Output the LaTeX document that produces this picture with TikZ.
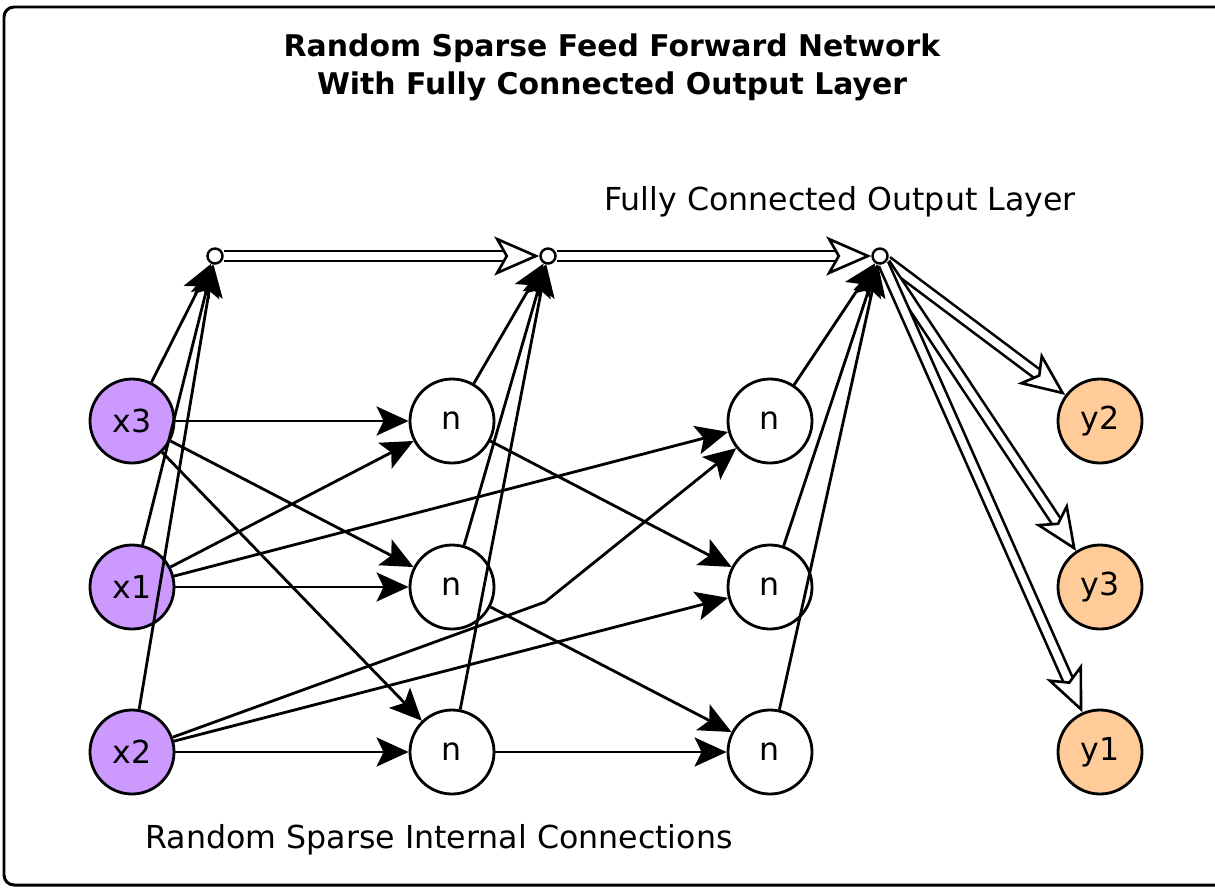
\documentclass[tikz,border=0pt]{standalone}
\usepackage{fontspec}
\setmainfont{DejaVu Sans}
\usetikzlibrary{arrows.meta,positioning}
\definecolor{inpurple}{RGB}{204,153,255}
\definecolor{outorange}{RGB}{255,204,153}
\tikzset{
  unit/.style={draw, circle, line width=1.6pt, minimum size=16.8mm, inner sep=0pt, font=\fontsize{18}{20}\selectfont},
  inp/.style={unit, fill=inpurple},
  hid/.style={unit, fill=white},
  outp/.style={unit, fill=outorange},
  jn/.style={draw, circle, fill=white, line width=1.4pt, minimum size=3mm, inner sep=0pt},
  arr/.style={-{Stealth[length=6.4mm, width=5.8mm, inset=1.4mm]}, line width=1.6pt},
  darr/.style={-{Stealth[fill=white, length=9mm, width=7.8mm, inset=2.2mm]}, line width=1.5pt, double, double distance=1.5mm},
  lbl/.style={font=\fontsize{18}{20}\selectfont},
  ttl/.style={font=\fontsize{17}{21.5}\selectfont\bfseries, align=center}
}
\begin{document}
\begin{tikzpicture}[x=0.2mm, y=-0.2mm]
  \useasboundingbox (0,0) rectangle (1215,887);
  \draw[line width=1.7pt, rounded corners=2mm] (4,7) rectangle (1230,885);
  \node[ttl] (title) at (612,67) {Random Sparse Feed Forward Network\\With Fully Connected Output Layer};
  \node[lbl] (fclbl) at (840,202) {Fully Connected Output Layer};
  \node[lbl] (rslbl) at (439,840) {Random Sparse Internal Connections};
  % layers
  \foreach \nm/\y in {x3/421, x1/587, x2/752}
    \node[inp] (\nm) at (132,\y) {\nm};
  \foreach \nm/\y in {a1/421, a2/587, a3/752}
    \node[hid] (\nm) at (452,\y) {n};
  \foreach \nm/\y in {b1/421, b2/587, b3/752}
    \node[hid] (\nm) at (770,\y) {n};
  \foreach \nm/\y in {y2/421, y3/587, y1/752}
    \node[outp] (\nm) at (1100,\y) {\nm};
  \node[jn] (j1) at (215,256) {};
  \node[jn] (j2) at (548,256) {};
  \node[jn] (j3) at (880,256) {};
  \coordinate (bend) at (545,602);
  % sparse internal connections
  \draw[arr] (x3) -- (a1);
  \draw[arr] (x3) -- (a2);
  \draw[arr] (x3) -- (a3);
  \draw[arr] (x1) -- (a1);
  \draw[arr] (x1) -- (a2);
  \draw[arr] (x1) -- (b1);
  \draw[arr] (x2) -- (a3);
  \draw[arr] (x2) -- (b2);
  \draw[arr] (x2) -- (bend) -- (b1);
  \draw[arr] (a1) -- (b2);
  \draw[arr] (a2) -- (b3);
  \draw[arr] (a3) -- (b3);
  % into the junctions
  \foreach \src in {x3, x1, x2}
    \draw[arr] (\src) -- (j1);
  \foreach \src in {a1, a2, a3}
    \draw[arr] (\src) -- (j2);
  \foreach \src in {b1, b2, b3}
    \draw[arr] (\src) -- (j3);
  % fully connected output
  \draw[darr] (j1) -- (j2);
  \draw[darr] (j2) -- (j3);
  \foreach \dst in {y2, y3, y1}
    \draw[darr] (j3) -- (\dst);
\end{tikzpicture}
\end{document}
